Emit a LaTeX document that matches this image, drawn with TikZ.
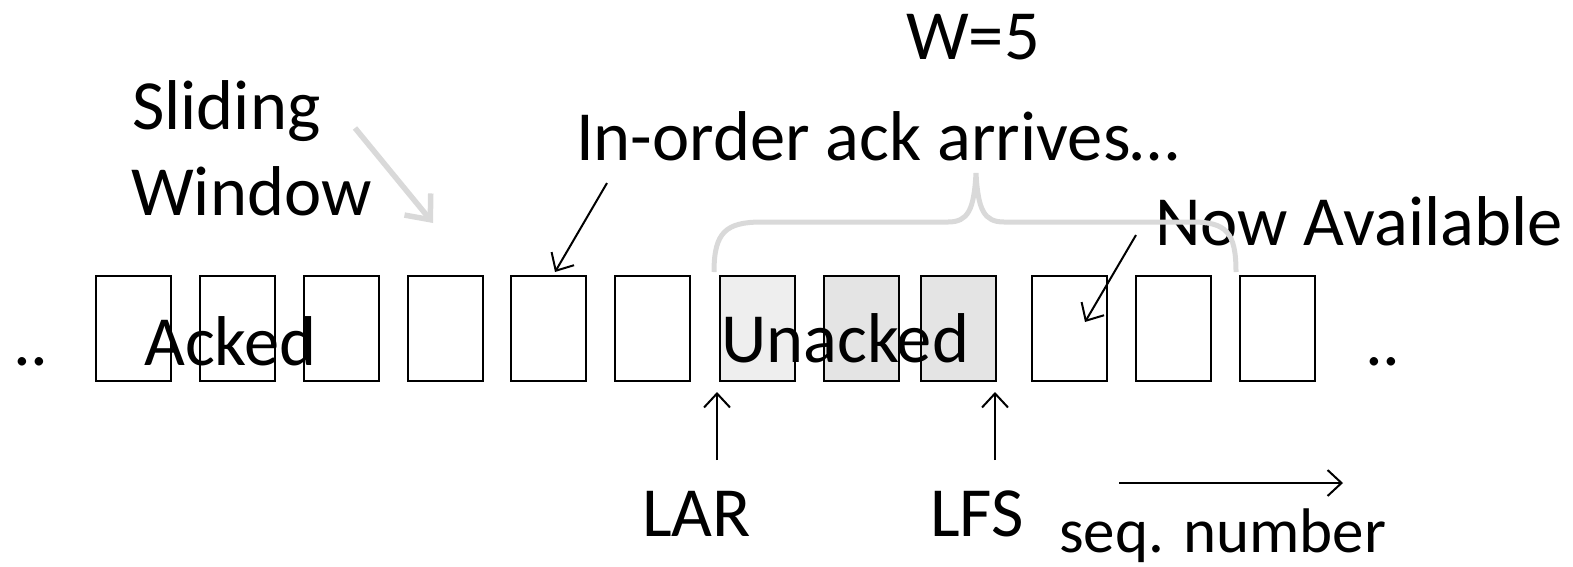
\documentclass[tikz,border=0pt]{standalone}
\usepackage{fontspec}
\setmainfont{Carlito}
\usetikzlibrary{arrows.meta}
\definecolor{braceg}{HTML}{D9D9D9}
\definecolor{fillA}{HTML}{EEEEEE}
\definecolor{fillB}{HTML}{E4E4E4}
\tikzset{
  slot/.style={draw=black, line width=1.6pt, minimum width=75pt, minimum height=105pt, inner sep=0pt, anchor=north west},
  big/.style={font=\fontsize{70.5}{84}\selectfont, inner sep=0pt, anchor=base west},
  mid/.style={font=\fontsize{63}{75}\selectfont, inner sep=0pt, anchor=base west},
  thinarrow/.style={line width=2pt, -{Straight Barb[length=14pt,width=26pt,line width=2pt]}},
  grayarrow/.style={draw=braceg, line width=5.5pt, -{Straight Barb[length=20pt,width=34pt,line width=5.5pt]}},
}
\begin{document}
\begin{tikzpicture}[x=1pt,y=-1pt]
\useasboundingbox (0,0) rectangle (1573,566);
% boxes
\foreach \i/\x in {1/95,2/199,3/303,4/407,5/510,6/614,10/1031,11/1135,12/1239}{
  \node[slot] (b\i) at (\x,275) {};
}
\node[slot, fill=fillA] (b7) at (719,275) {};
\node[slot, fill=fillB] (b8) at (823,275) {};
\node[slot, fill=fillB] (b9) at (920,275) {};
% texts
\node[big] (w5) at (906,59) {W=5};
\node[big] (inorder) at (576,160) {In-order ack arrives…};
\node[big] (sl1) at (132,129) {Sliding};
\node[big] (sl2) at (131,215) {Window};
\node[big] (now) at (1155,245) {Now Available};
\node[big] (acked) at (144,365) {Acked};
\node[big] (unacked) at (721,362) {Unacked};
\node[big] (dotl) at (13,365) {..};
\node[big] (dotr) at (1365,365) {..};
\node[big] (lar) at (642,536) {LAR};
\node[big] (lfs) at (930,536) {LFS};
\node[mid] (seq) at (1059,552) {seq. number};
% brace
\coordinate (brL) at (714,272);
\coordinate (brT) at (976,173);
\coordinate (brR) at (1236,272);
\draw[braceg, line width=5pt] (brL) .. controls (714,232) and (726,222) .. (762,222) -- (948,222) .. controls (968,222) and (974,210) .. (brT) .. controls (978,210) and (984,222) .. (1004,222) -- (1192,222) .. controls (1226,222) and (1236,232) .. (brR);
% arrows
\coordinate (gs) at (355,128);
\coordinate (ge) at (433,223);
\draw[grayarrow] (gs) -- (ge);
\coordinate (ios) at (607,183);
\coordinate (ioe) at (555,272);
\draw[thinarrow] (ios) -- (ioe);
\coordinate (nas) at (1136,235);
\coordinate (nae) at (1085,322);
\draw[thinarrow] (nas) -- (nae);
\coordinate (lars) at (717,460);
\coordinate (lare) at (717,392);
\draw[thinarrow] (lars) -- (lare);
\coordinate (lfss) at (995,460);
\coordinate (lfse) at (995,392);
\draw[thinarrow] (lfss) -- (lfse);
\coordinate (sqs) at (1119,483);
\coordinate (sqe) at (1343,483);
\draw[thinarrow, line width=2.4pt] (sqs) -- (sqe);
\end{tikzpicture}
\end{document}
